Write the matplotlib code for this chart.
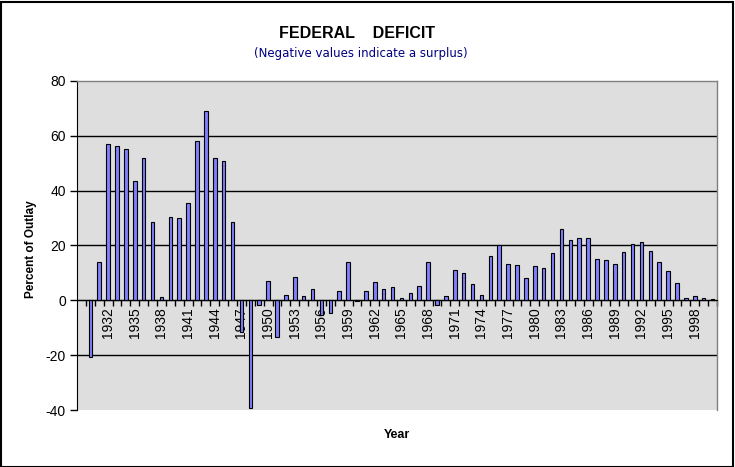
import numpy as np
import matplotlib
matplotlib.use("Agg")
import matplotlib.pyplot as plt
from matplotlib.patches import Rectangle

plt.rcParams["font.family"] = ["Liberation Sans", "DejaVu Sans"]

years = list(range(1929, 2001))
deficit_pct = [
    np.nan, -20.8, 13.8, 57.0, 56.2, 55.2, 43.5, 51.9, 28.6, 1.3,   # 1929-1938
    30.5, 30.2, 35.5, 58.1, 69.0, 51.9, 50.9, 28.6, -11.5, -39.4,  # 1939-1948
    -1.6, 7.2, -13.2, 2.1, 8.4, 1.4, 4.3, -5.3, -4.6, 3.3,         # 1949-1958
    14.0, -0.3, 3.3, 6.7, 4.0, 4.7, 1.0, 2.6, 5.4, 14.0,           # 1959-1968
    -1.6, 1.4, 11.0, 10.0, 5.9, 2.1, 16.2, 20.0, 13.2, 12.9,       # 1969-1978
    8.1, 12.5, 11.8, 17.4, 26.0, 21.9, 22.6, 22.6, 15.2, 14.8,     # 1979-1988
    13.3, 17.8, 20.4, 21.1, 18.1, 14.0, 10.8, 6.2, 1.0, 1.4,       # 1989-1998
    0.7, 0.4,                                                       # 1999-2000
]
label_years = list(range(1932, 1999, 3))
y_ticks = [-40, -20, 0, 20, 40, 60, 80]

W, H = 735, 467
fig = plt.figure(figsize=(W / 100, H / 100), dpi=100)
fig.patch.set_facecolor("white")

ax = fig.add_axes([77 / W, 1 - 410 / H, (717 - 77) / W, (410 - 81) / H])
ax.set_facecolor("#DEDEDE")

x = np.arange(len(years))
vals = np.array(deficit_pct, dtype=float)
ax.bar(x, vals, width=0.4, color="#7F7FFF", edgecolor="black", linewidth=0.8, zorder=3)

ax.set_xlim(-0.5, len(years) - 0.5)
ax.set_ylim(-40, 80)

# gridlines
for v in y_ticks[1:-1]:
    ax.axhline(v, color="black", linewidth=1.0, zorder=1)

# spines
for s in ["top", "right"]:
    ax.spines[s].set_color("#808080")
    ax.spines[s].set_linewidth(1.0)
ax.spines["left"].set_color("black")
ax.spines["bottom"].set_position(("data", 0))
ax.spines["bottom"].set_color("black")
ax.spines["bottom"].set_zorder(4)

# y ticks
ax.set_yticks(y_ticks)
ax.set_yticklabels([str(v) for v in y_ticks])
ax.tick_params(axis="y", direction="out", length=5, width=1, color="black",
               labelsize=10, pad=3)

# x ticks: boundaries as minor ticks, labels at major
label_idx = [years.index(yv) for yv in label_years]
ax.set_xticks(label_idx)
ax.set_xticklabels([str(yv) for yv in label_years], rotation=90)
ax.set_xticks(np.arange(0.5, len(years) - 0.5 + 0.01, 1.0), minor=True)
ax.tick_params(axis="x", which="major", length=0, labelsize=10, pad=5)
ax.tick_params(axis="x", which="minor", direction="out", length=4, width=1, color="black")

for lab in ax.get_xticklabels():
    lab.set_va("top")

# labels and titles
fig.text(357 / W, 1 - 33 / H, "FEDERAL    DEFICIT", ha="center", va="center",
         fontsize=11.5, fontweight="bold", color="black")
fig.text(361 / W, 1 - 53 / H, "(Negative values indicate a surplus)", ha="center", va="center",
         fontsize=8.5, color="#000080", family=["Liberation Sans Narrow", "DejaVu Sans"])
fig.text(31 / W, 1 - 249 / H, "Percent of Outlay", rotation=90, ha="center", va="center",
         fontsize=8.5, fontweight="bold")
fig.text(397 / W, 1 - 434.5 / H, "Year", ha="center", va="center",
         fontsize=9, fontweight="bold")

# figure border
fig.patches.append(Rectangle((0.5 / W, 0.5 / H), (W - 2.5) / W, (H - 2.5) / H,
                             transform=fig.transFigure, fill=False,
                             edgecolor="black", linewidth=1.5))

fig.savefig("out.png", dpi=100)
